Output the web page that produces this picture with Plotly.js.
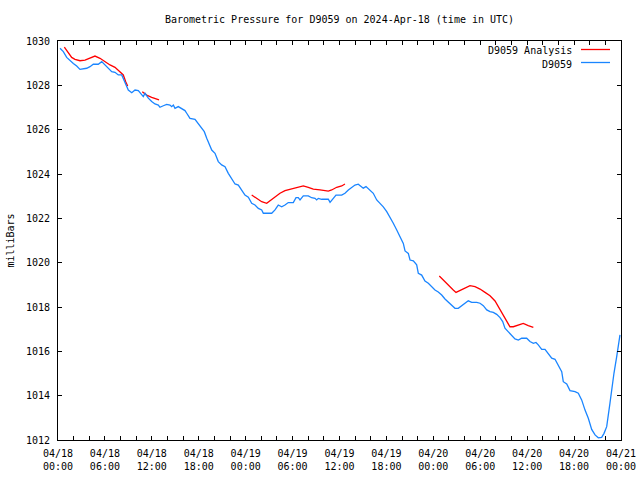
<!DOCTYPE html>
<html>
<head>
<meta charset="utf-8">
<script src="https://cdn.plot.ly/plotly-3.0.1.min.js"></script>
<style>html,body{margin:0;padding:0;background:#fff;}#chart{width:640px;height:480px;}</style>
</head>
<body>
<div id="chart"></div>
<script>
// Hours since 2024-04-18 00:00 UTC
var obsHours = [0.26,0.68,1.11,1.53,1.96,2.39,2.81,3.67,4.09,4.51,5.15,5.59,6.01,6.43,6.87,7.29,7.71,8.15,8.35,8.57,8.79,8.99,9.43,9.85,10.27,10.70,10.91,11.13,11.55,11.98,
12.40,12.83,13.04,13.47,13.90,14.32,14.54,14.75,14.96,15.38,15.82,16.24,16.46,16.88,17.52,17.94,18.38,18.71,19.02,19.44,19.66,20.08,20.50,20.93,21.36,21.78,22.21,22.64,23.06,23.49,
23.91,24.34,24.77,25.19,25.62,26.05,26.26,27.33,27.75,28.17,28.61,29.03,29.45,30.09,30.44,30.73,30.95,31.37,32.01,32.44,32.87,33.08,33.29,33.72,34.57,34.79,35.13,35.55,36.28,36.70,
37.13,37.56,37.98,38.40,38.84,39.04,39.39,39.90,40.32,40.76,41.18,41.60,42.04,42.46,42.88,43.32,43.74,44.16,44.38,44.80,45.02,45.44,45.87,46.08,46.51,46.93,47.36,47.79,48.21,48.63,
49.07,49.49,49.91,50.35,50.77,51.19,51.63,52.05,52.47,52.91,53.55,53.97,54.39,54.83,55.25,55.67,56.10,56.53,56.87,57.16,57.59,58.02,58.44,58.87,59.30,59.94,60.36,60.79,61.13,61.42,
61.86,62.28,62.70,63.14,63.56,63.98,64.42,64.62,65.06,65.48,66.12,66.54,66.97,67.40,67.82,68.25,68.68,69.10,69.53,69.83,70.17,70.59,70.81,71.10,71.45,71.65,71.87];
var obsPressure = [1029.67,1029.52,1029.26,1029.11,1028.99,1028.87,1028.72,1028.77,1028.84,1028.95,1028.95,1029.07,1028.92,1028.77,1028.62,1028.59,1028.47,1028.47,1028.32,1028.16,1027.94,1027.79,1027.67,1027.79,1027.76,1027.56,1027.49,1027.64,1027.42,1027.27,
1027.16,1027.11,1027.01,1027.08,1027.14,1027.11,1027.04,1027.11,1026.96,1027.04,1026.96,1026.86,1026.74,1026.51,1026.47,1026.29,1026.06,1025.91,1025.61,1025.31,1025.08,1024.93,1024.56,1024.41,1024.33,1024.03,1023.81,1023.55,1023.50,1023.28,
1023.05,1022.95,1022.68,1022.60,1022.45,1022.38,1022.23,1022.23,1022.38,1022.60,1022.52,1022.60,1022.71,1022.71,1022.93,1022.93,1022.83,1023.01,1023.01,1022.93,1022.90,1022.83,1022.90,1022.86,1022.86,1022.72,1022.86,1023.05,1023.05,1023.13,
1023.28,1023.40,1023.50,1023.54,1023.43,1023.36,1023.43,1023.28,1023.13,1022.83,1022.68,1022.52,1022.30,1022.07,1021.78,1021.47,1021.17,1020.87,1020.53,1020.42,1020.12,1020.08,1019.90,1019.52,1019.44,1019.17,1019.07,1018.92,1018.77,1018.68,
1018.54,1018.36,1018.21,1018.05,1017.94,1017.94,1018.06,1018.17,1018.28,1018.21,1018.21,1018.17,1018.06,1017.87,1017.79,1017.76,1017.67,1017.52,1017.34,1017.04,1016.89,1016.74,1016.56,1016.51,1016.59,1016.59,1016.44,1016.36,1016.40,1016.29,
1016.09,1016.09,1015.91,1015.69,1015.64,1015.38,1015.08,1014.63,1014.53,1014.23,1014.18,1014.11,1013.81,1013.35,1012.98,1012.48,1012.23,1012.10,1012.12,1012.30,1012.60,1013.66,1014.33,1015.01,1015.76,1016.36,1016.74];

// Analysis series (null separates segments)
var anaHours = [0.81,1.32,1.75,2.17,2.81,3.45,4.09,4.73,5.37,6.01,6.65,7.29,7.93,8.35,8.66,8.91,9.8,
10.78,11.34,11.98,12.62,12.92,18.0,
24.77,25.41,26.05,26.69,27.11,27.75,28.39,29.03,29.89,30.73,31.37,32.01,32.65,33.51,34.57,35.00,35.64,36.28,36.70,42.0,
48.76,49.27,49.91,50.55,50.90,51.41,52.05,52.69,53.33,53.97,54.61,55.25,55.89,56.53,57.16,57.80,58.23,58.87,59.50,60.14,60.79];
var anaPressure = [1029.72,1029.45,1029.26,1029.17,1029.11,1029.14,1029.22,1029.32,1029.22,1029.07,1028.92,1028.81,1028.62,1028.47,1028.16,1027.97,null,
1027.71,1027.56,1027.46,1027.37,1027.34,null,
1023.05,1022.90,1022.75,1022.68,1022.80,1022.95,1023.13,1023.25,1023.32,1023.40,1023.46,1023.40,1023.32,1023.28,1023.23,1023.28,1023.40,1023.46,1023.55,null,
1019.40,1019.22,1018.96,1018.77,1018.66,1018.74,1018.84,1018.96,1018.92,1018.81,1018.66,1018.51,1018.27,1017.86,1017.49,1017.11,1017.11,1017.19,1017.26,1017.16,1017.08];

var xTickVals = [];
var xTickText = [];
var xMajorLabels = {0:'04/18<br>00:00',6:'04/18<br>06:00',12:'04/18<br>12:00',18:'04/18<br>18:00',24:'04/19<br>00:00',30:'04/19<br>06:00',36:'04/19<br>12:00',42:'04/19<br>18:00',48:'04/20<br>00:00',54:'04/20<br>06:00',60:'04/20<br>12:00',66:'04/20<br>18:00',72:'04/21<br>00:00'};
for (var h = 0; h <= 72; h += 2) { xTickVals.push(h); xTickText.push(xMajorLabels[h] || ''); }
var yTickVals = [1012,1014,1016,1018,1020,1022,1024,1026,1028,1030];

var seriesNames = ['D9059 Analysis','D9059'];
var seriesColors = ['#ff0000','#1a85ff'];

var F = 'DejaVu Sans Mono, monospace';

var traces = [
  {x: anaHours, y: anaPressure, mode:'lines', name: seriesNames[0], connectgaps:false, line:{color:seriesColors[0], width:1.3}, hoverinfo:'skip'},
  {x: obsHours, y: obsPressure, mode:'lines', name: seriesNames[1], line:{color:seriesColors[1], width:1.3}, hoverinfo:'skip'}
];

var layout = {
  width:640, height:480,
  margin:{l:58, r:19, t:41, b:40, pad:0},
  paper_bgcolor:'#fff', plot_bgcolor:'#fff',
  showlegend:false,
  font:{family:F, size:10, color:'#000'},
  title:{text:'Barometric Pressure for D9059 on 2024-Apr-18 (time in UTC)', font:{family:F, size:10, color:'#000'}, x:0.5, xref:'paper', xanchor:'center', y:1-19/480, yref:'container', yanchor:'middle'},
  xaxis:{range:[0,72], tickmode:'array', tickvals:xTickVals, ticktext:xTickText, ticks:'inside', ticklen:4, tickcolor:'#000',
         showline:true, linecolor:'#000', linewidth:1, mirror:'allticks', showgrid:false, zeroline:false, fixedrange:true,
         tickfont:{family:F, size:10, color:'#000'}, ticklabelstandoff:4},
  yaxis:{range:[1012,1030], tickmode:'array', tickvals:yTickVals, ticks:'inside', ticklen:4, tickcolor:'#000',
         showline:true, linecolor:'#000', linewidth:1, mirror:'allticks', showgrid:false, zeroline:false, fixedrange:true,
         tickfont:{family:F, size:10, color:'#000'}, ticklabelstandoff:5,
         title:{text:'milliBars', font:{family:F, size:10, color:'#000'}, standoff:9}},
  annotations:[
    {xref:'paper', yref:'paper', x:(574-58)/563, y:1-(50.5-41)/399, xanchor:'right', yanchor:'middle', text:seriesNames[0], showarrow:false, font:{family:F,size:10,color:'#000'}},
    {xref:'paper', yref:'paper', x:(574-58)/563, y:1-(64-41)/399, xanchor:'right', yanchor:'middle', text:seriesNames[1], showarrow:false, font:{family:F,size:10,color:'#000'}}
  ],
  shapes:[
    {type:'line', xref:'paper', yref:'paper', x0:(581-58)/563, x1:(610-58)/563, y0:1-(49.5-41)/399, y1:1-(49.5-41)/399, line:{color:seriesColors[0], width:1.3}},
    {type:'line', xref:'paper', yref:'paper', x0:(581-58)/563, x1:(610-58)/563, y0:1-(62.5-41)/399, y1:1-(62.5-41)/399, line:{color:seriesColors[1], width:1.3}}
  ]
};

Plotly.newPlot('chart', traces, layout, {staticPlot:true, displayModeBar:false});
</script>
</body>
</html>
